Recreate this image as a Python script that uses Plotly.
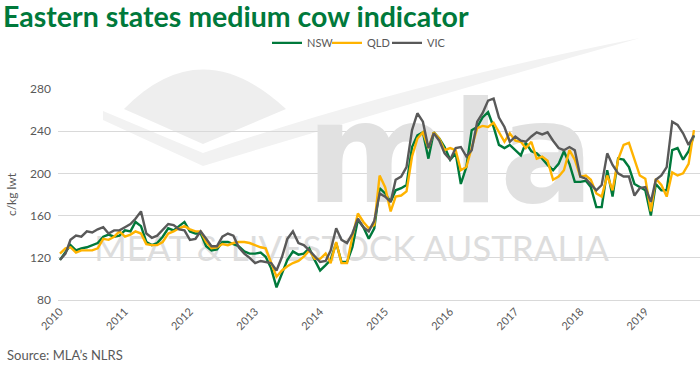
import plotly.graph_objects as go
import pandas as pd

# Monthly medium cow indicator, c/kg lwt (Jan 2010 - Oct 2019)
nsw = [118,126,132,127,129,130,132,134,140,142,140,141,
       146,145,154,150,135,132,134,140,148,146,150,154,
       145,143,143,131,127,128,135,135,133,131,126,124,
       124,125,121,110,92,105,118,126,123,124,129,118,
       108,113,118,134,116,116,130,156,149,138,148,186,
       181,173,184,186,189,225,236,239,214,239,233,225,
       213,219,190,206,241,244,253,258,244,227,224,227,
       222,217,229,221,219,214,208,203,209,221,209,192,
       192,193,187,168,168,203,178,214,213,206,190,187,
       184,160,190,184,184,222,224,213,221,236]
qld = [124,129,130,125,127,127,127,129,138,137,140,145,
       140,142,145,143,133,132,132,135,143,145,148,150,
       147,145,145,135,129,130,133,132,134,135,135,134,
       132,130,129,115,102,108,112,115,117,121,127,119,
       119,124,115,135,115,115,140,162,154,148,151,198,
       187,164,178,179,183,216,233,239,224,239,233,222,
       224,222,203,206,225,243,245,244,248,239,230,238,
       231,230,224,230,214,216,212,194,197,203,222,213,
       197,198,194,181,178,198,184,213,227,229,213,198,
       195,164,195,189,178,201,198,200,209,241]
vic = [118,124,137,141,140,145,144,147,149,143,146,146,
       149,152,157,164,143,139,141,147,152,151,147,146,
       137,138,145,138,131,131,140,143,141,130,124,120,
       115,117,116,115,108,121,138,145,134,132,127,122,
       116,117,127,148,137,134,143,157,149,145,155,181,
       178,173,194,197,206,241,257,249,224,238,231,219,
       213,224,225,216,222,249,257,269,271,253,244,230,
       235,231,230,235,239,237,239,231,224,222,225,222,
       197,195,190,184,189,219,208,200,197,197,179,186,
       187,173,194,198,206,249,246,238,227,236]
dates = pd.date_range("2010-01-01", periods=len(nsw), freq="MS")

series_names = ["NSW", "QLD", "VIC"]
series_colors = ["#00793b", "#ffb300", "#595959"]
years = ["2010","2011","2012","2013","2014","2015","2016","2017","2018","2019"]
y_ticks = [80, 120, 160, 200, 240, 280]

W, H = 700, 373
L, R, T, B = 58, 0, 89, 73
pw, ph = W - L - R, H - T - B

def px(x):
    return (x - L) / pw

def py(y):
    return 1 - (y - T) / ph

fig = go.Figure()

# watermark text (drawn first, beneath the data lines)
fig.add_trace(go.Scatter(x=[pd.Timestamp("2016-01-01")], y=[206], mode="text",
                         text=["mla"], textposition="middle center",
                         textfont=dict(family="DejaVu Sans", size=140, color="#e1e1e1", weight="bold"),
                         hoverinfo="skip", showlegend=False))
fig.add_trace(go.Scatter(x=[pd.Timestamp("2014-06-27")], y=[125], mode="text",
                         text=["MEAT & LIVESTOCK AUSTRALIA"], textposition="middle center",
                         textfont=dict(family="Lato", size=35, color="#dddddd"),
                         hoverinfo="skip", showlegend=False))

for name, vals, col in zip(series_names, [nsw, qld, vic], series_colors):
    fig.add_trace(go.Scatter(x=dates, y=vals, mode="lines", name=name,
                             line=dict(color=col, width=2.4)))

# watermark emblem shapes
dome = (f"M {px(124)},{py(109)} Q {px(201)},{py(30)} {px(286)},{py(109)} "
        f"L {px(203)},{py(144)} Z")
chev = (f"M {px(103)},{py(111)} L {px(203)},{py(153)} Q {px(400)},{py(85)} {px(640)},{py(38)} "
        f"Q {px(420)},{py(100)} {px(203)},{py(166)} L {px(103)},{py(120)} Z")
shapes = [
    dict(type="path", path=chev, xref="paper", yref="paper", layer="below",
         fillcolor="#f2f2f2", line=dict(width=0)),
    dict(type="path", path=dome, xref="paper", yref="paper", layer="below",
         fillcolor="#eeeeee", line=dict(width=0)),
]

fig.update_layout(
    width=W, height=H,
    margin=dict(l=L, r=R, t=T, b=B, autoexpand=False),
    paper_bgcolor="white", plot_bgcolor="rgba(0,0,0,0)",
    font=dict(family="Lato", color="#595959"),
    title=dict(text="Eastern states medium cow indicator", x=0.0, xref="container",
               xanchor="left", y=0.955, yref="container", yanchor="middle",
               pad=dict(l=3),
               font=dict(family="Lato", size=28.5, color="#00793b", weight="bold")),
    legend=dict(orientation="h", x=0.51, xref="container", xanchor="center",
                y=0.885, yref="container", yanchor="middle",
                font=dict(size=11, color="#595959"), itemwidth=30,
                entrywidth=15, entrywidthmode="pixels",
                bgcolor="rgba(0,0,0,0)"),
    shapes=shapes,
    showlegend=True,
)

fig.update_xaxes(range=[pd.Timestamp("2009-12-21"), pd.Timestamp("2019-11-04")],
                 tickvals=[pd.Timestamp(f"{y}-01-01") for y in years], ticktext=years,
                 tickangle=-45, showgrid=False, showline=True, linecolor="#d9d9d9",
                 ticks="", tickfont=dict(size=11, color="#595959"), zeroline=False,
                 automargin=False)
fig.update_yaxes(range=[80, 280], tickvals=y_ticks, showgrid=True, gridcolor="#d9d9d9",
                 gridwidth=1, ticks="", tickfont=dict(size=12, color="#595959"),
                 title=dict(text="c/kg lwt", font=dict(size=12, color="#595959"), standoff=10),
                 zeroline=False, ticklabelstandoff=6, automargin=False)

fig.add_annotation(text="Source: MLA’s NLRS", xref="paper", yref="paper",
                   x=px(5), y=py(355), xanchor="left", yanchor="middle",
                   showarrow=False, font=dict(family="Lato", size=13, color="#595959"))

fig.write_html("out.html", config={"displayModeBar": False},
               post_script="document.body.style.margin='0';document.body.style.overflow='hidden';")
